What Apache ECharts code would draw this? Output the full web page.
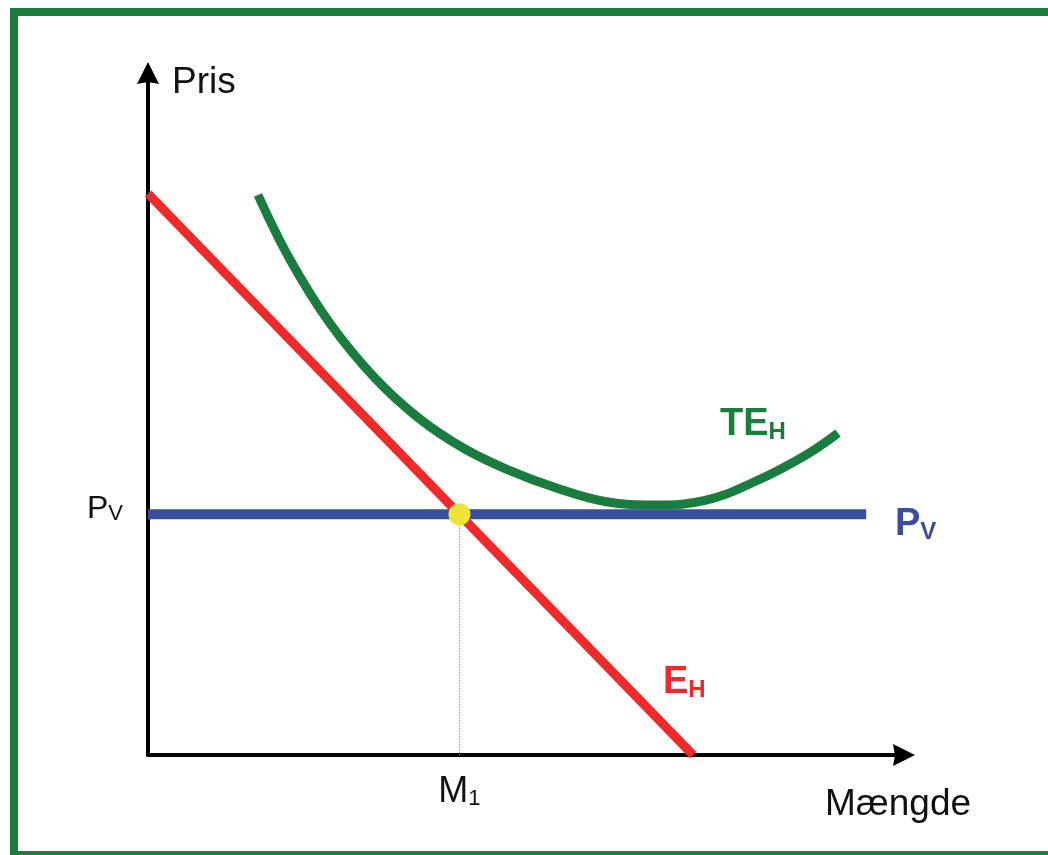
<!DOCTYPE html>
<html>
<head>
<meta charset="utf-8">
<title>Pris og mængde</title>
<script src="https://cdn.jsdelivr.net/npm/echarts@6/dist/echarts.min.js"></script>
<style>
  html, body { margin: 0; padding: 0; background: #fff; }
  #chart { width: 1048px; height: 855px; }
</style>
</head>
<body>
<div id="chart"></div>
<script>
// values, both axes run 0..100
const ehPoints = [[0, 82.3], [72.1, 0]];
const tePoints = [
  [14.55, 82.11], [18.78, 72.65], [24.07, 63.28], [30.03, 55.26], [35.98, 49.25],
  [41.93, 44.87], [47.88, 41.70], [53.84, 39.22], [60.45, 37.17], [67.06, 36.66],
  [73.68, 37.32], [80.29, 40.10], [86.90, 43.91], [91.27, 47.21]
];
const pvLevel = 35.3;
const pvRange = [0, 95.0];
const m1 = 41.2;

const FONT = "'Liberation Sans', Arial, sans-serif";
const RED = '#ee2a2a';
const GREEN = '#1b7c3f';
const BLUE = '#3a4ea0';
const ARROW = 'path://M11,0L22,22L11,20L0,22Z';

const chart = echarts.init(document.getElementById('chart'));

const option = {
  animation: false,
  backgroundColor: '#fff',
  grid: { left: 148, right: 144, top: 73, bottom: 100, containLabel: false, outerBoundsMode: 'none' },
  xAxis: {
    type: 'value',
    min: 0,
    max: 100,
    name: 'Mængde',
    nameLocation: 'end',
    nameGap: -79,
    nameMoveOverlap: false,
    nameTextStyle: {
      fontFamily: FONT, fontSize: 37, color: '#111',
      align: 'left', verticalAlign: 'top', lineHeight: 40, padding: [30, 0, 0, 0]
    },
    axisLine: {
      lineStyle: { color: '#000', width: 4 },
      symbol: ['none', ARROW],
      symbolSize: [22, 22]
    },
    axisTick: { show: false },
    splitLine: { show: false },
    axisLabel: {
      customValues: [m1],
      margin: 15,
      formatter: () => '{m|M}{s|1}',
      rich: {
        m: { fontFamily: FONT, fontSize: 36, color: '#111', lineHeight: 40, verticalAlign: 'bottom' },
        s: { fontFamily: FONT, fontSize: 22, color: '#111', lineHeight: 19, verticalAlign: 'bottom' }
      }
    }
  },
  yAxis: {
    type: 'value',
    min: 0,
    max: 100,
    name: 'Pris',
    nameLocation: 'end',
    nameGap: -10,
    nameMoveOverlap: false,
    nameTextStyle: {
      fontFamily: FONT, fontSize: 37, color: '#111',
      align: 'left', verticalAlign: 'middle', padding: [0, 0, 0, 24]
    },
    axisLine: {
      lineStyle: { color: '#000', width: 4 },
      symbol: ['none', ARROW],
      symbolSize: [22, 22]
    },
    axisTick: { show: false },
    splitLine: { show: false },
    axisLabel: {
      customValues: [pvLevel],
      margin: 25,
      formatter: () => '{p|P}{s|V}',
      padding: [0, 0, 12, 0],
      rich: {
        p: { fontFamily: FONT, fontSize: 32, color: '#111', lineHeight: 34, verticalAlign: 'bottom' },
        s: { fontFamily: FONT, fontSize: 22, color: '#111', lineHeight: 10, verticalAlign: 'bottom' }
      }
    }
  },
  series: [
    {
      // dotted drop line from the crossing down to M1
      type: 'line',
      data: [[m1, 0], [m1, pvLevel]],
      showSymbol: false,
      silent: true,
      lineStyle: { color: '#9a9a9a', width: 1, type: 'dotted' },
      z: 1
    },
    {
      type: 'line',
      data: pvRange.map(x => [x, pvLevel]),
      showSymbol: false,
      lineStyle: { color: BLUE, width: 10, cap: 'butt' },
      z: 2
    },
    {
      type: 'line',
      data: tePoints,
      smooth: 0.4,
      showSymbol: false,
      lineStyle: { color: GREEN, width: 9, cap: 'butt' },
      z: 3
    },
    {
      type: 'line',
      data: ehPoints,
      showSymbol: false,
      lineStyle: { color: RED, width: 9, cap: 'butt' },
      z: 4
    },
    {
      type: 'scatter',
      data: [[m1, pvLevel]],
      symbolSize: 22,
      itemStyle: { color: '#ede539', opacity: 1 },
      z: 5
    }
  ],
  graphic: [
    {
      // green frame
      type: 'rect',
      shape: { x: 14, y: 12, width: 1100, height: 843 },
      style: { fill: 'none', stroke: '#1b7c40', lineWidth: 8 },
      silent: true
    },
    {
      type: 'text', x: 720, y: 422,
      style: {
        text: '{a|TE}{b|H}', align: 'left', verticalAlign: 'middle',
        rich: {
          a: { fontFamily: FONT, fontSize: 38, fontWeight: 'bold', fill: GREEN, lineHeight: 44, verticalAlign: 'bottom' },
          b: { fontFamily: FONT, fontSize: 24, fontWeight: 'bold', fill: GREEN, lineHeight: 20, verticalAlign: 'bottom' }
        }
      }
    },
    {
      type: 'text', x: 663, y: 680,
      style: {
        text: '{a|E}{b|H}', align: 'left', verticalAlign: 'middle',
        rich: {
          a: { fontFamily: FONT, fontSize: 38, fontWeight: 'bold', fill: RED, lineHeight: 44, verticalAlign: 'bottom' },
          b: { fontFamily: FONT, fontSize: 24, fontWeight: 'bold', fill: RED, lineHeight: 20, verticalAlign: 'bottom' }
        }
      }
    },
    {
      type: 'text', x: 895, y: 522,
      style: {
        text: '{a|P}{b|V}', align: 'left', verticalAlign: 'middle',
        rich: {
          a: { fontFamily: FONT, fontSize: 38, fontWeight: 'bold', fill: BLUE, lineHeight: 44, verticalAlign: 'bottom' },
          b: { fontFamily: FONT, fontSize: 24, fontWeight: 'bold', fill: BLUE, lineHeight: 24, verticalAlign: 'bottom' }
        }
      }
    }
  ]
};

chart.setOption(option);
</script>
</body>
</html>
